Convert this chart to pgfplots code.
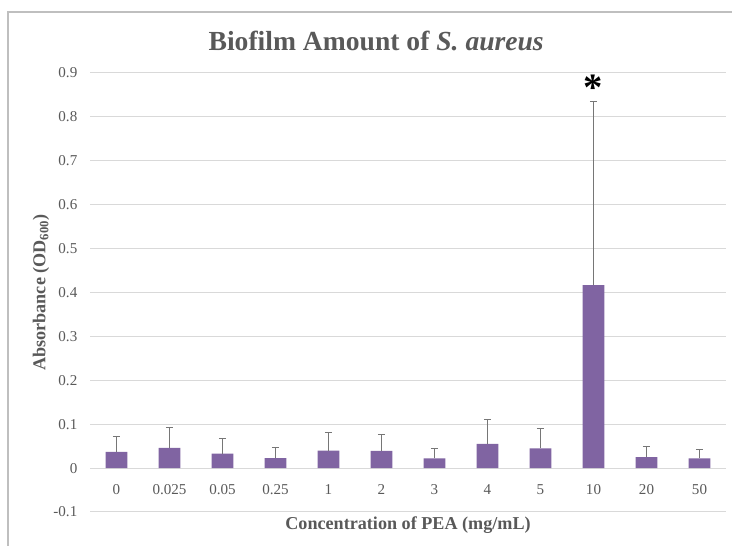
\documentclass[border=0pt]{standalone}
\usepackage{pgfplots}
\pgfplotsset{compat=1.18}
\usepackage{fontspec}
\setmainfont{Liberation Serif}
\definecolor{barpurple}{HTML}{8064A2}
\definecolor{txtgray}{HTML}{595959}
\definecolor{gridgray}{HTML}{D9D9D9}
\definecolor{errgray}{HTML}{767676}
\definecolor{framegray}{HTML}{BFBFBF}
\pgfplotstableread{
x y err
0 0.037 0.035
1 0.046 0.046
2 0.033 0.034
3 0.023 0.025
4 0.040 0.041
5 0.039 0.038
6 0.022 0.023
7 0.055 0.055
8 0.045 0.046
9 0.417 0.419
10 0.025 0.025
11 0.022 0.021
}\datatable
\begin{document}
\begin{tikzpicture}[x=1pt,y=1pt]
\path[use as bounding box] (0,0) rectangle (549,409.5);
\draw[framegray, line width=0.9pt] (6,0) -- (6,400.5) -- (549,400.5);
\begin{axis}[
  at={(67.5pt,25.5pt)}, anchor=south west,
  scale only axis, width=477pt, height=329.25pt,
  xmin=-0.5, xmax=11.5, ymin=-0.1, ymax=0.9,
  ytick={-0.1,0,0.1,0.2,0.3,0.4,0.5,0.6,0.7,0.8,0.9},
  yticklabels={-0.1,0,0.1,0.2,0.3,0.4,0.5,0.6,0.7,0.8,0.9},
  xtick={0,...,11},
  xticklabels={0,0.025,0.05,0.25,1,2,3,4,5,10,20,50},
  axis line style={draw=none},
  major tick length=0pt,
  ymajorgrids, grid style={gridgray, line width=0.75pt},
  tick label style={font=\fontsize{11.3}{13}\selectfont, text=txtgray},
  xticklabel style={anchor=center, yshift=16.5pt},
  yticklabel style={xshift=-6pt},
  /pgf/number format/assume math mode=true,
  title={\textbf{Biofilm Amount of \textit{S. aureus}}},
  title style={font=\fontsize{20.7}{24}\selectfont, text=txtgray, at={(axis description cs:0.45,1.054)}, anchor=center},
  xlabel={\textbf{Concentration of PEA (mg/mL)}},
  xlabel style={font=\fontsize{13.6}{16}\selectfont, text=txtgray, at={(axis description cs:0.5,-0.031)}, anchor=center},
  ylabel={\textbf{Absorbance (OD\textsubscript{600})}},
  ylabel style={font=\fontsize{13.6}{16}\selectfont, text=txtgray, at={(axis description cs:-0.077,0.5)}, anchor=center, rotate=0},
  clip=false,
]
\addplot[ybar, bar width=16.3pt, fill=barpurple, draw=none,
  error bars/.cd, y dir=plus, y explicit,
  error bar style={errgray, line width=0.75pt},
  error mark options={errgray, line width=0.75pt, rotate=90, mark size=2.8pt}]
  table[x=x, y=y, y error=err] {\datatable};
\node[anchor=north, inner sep=0pt, font=\fontsize{29}{29}\selectfont\bfseries] at (axis cs:9,0.897) {*};
\end{axis}
\end{tikzpicture}
\end{document}
